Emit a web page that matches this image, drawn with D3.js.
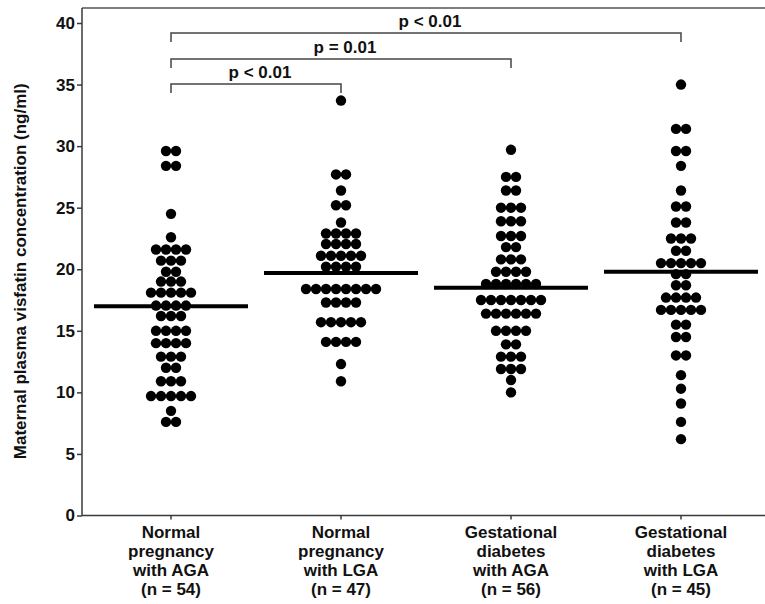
<!DOCTYPE html>
<html>
<head>
<meta charset="utf-8">
<script src="https://cdn.jsdelivr.net/npm/d3@7"></script>
<style>
  html, body { margin: 0; padding: 0; background: #fff; }
  svg { display: block; font-family: "Liberation Sans", Arial, Helvetica, sans-serif; font-weight: bold; }
</style>
</head>
<body>
<svg id="chart" width="765" height="604"></svg>
<script>
// ---- data ----
const categories = ["NP_AGA", "NP_LGA", "GDM_AGA", "GDM_LGA"];
const categoryLabels = [
  ["Normal", "pregnancy", "with AGA", "(n = 54)"],
  ["Normal", "pregnancy", "with LGA", "(n = 47)"],
  ["Gestational", "diabetes", "with AGA", "(n = 56)"],
  ["Gestational", "diabetes", "with LGA", "(n = 45)"]
];
const npAGA = [29.6,29.6, 28.4,28.4, 24.5, 22.6, 21.6,21.6,21.6,21.6, 20.7,20.7,20.7, 19.8,19.8,
  19.0,19.0,19.0, 18.1,18.1,18.1,18.1,18.1, 17.05,17.05,17.05,17.05, 16.2,16.2,16.2,
  15.0,15.0,15.0,15.0, 14.0,14.0,14.0,14.0, 12.9,12.9,12.9, 12.0,12.0, 10.9,10.9,10.9,
  9.7,9.7,9.7,9.7,9.7, 8.5, 7.6,7.6];
const npLGA = [33.7, 27.7,27.7, 26.4, 25.2,25.2, 23.8, 22.9,22.9,22.9,22.9, 22.05,22.05,22.05,22.05,
  21.1,21.1,21.1,21.1,21.1, 20.2,20.2,20.2,20.2, 18.4,18.4,18.4,18.4,18.4,18.4,18.4,18.4,
  17.3,17.3,17.3,17.3, 15.7,15.7,15.7,15.7,15.7, 14.1,14.1,14.1,14.1, 12.3, 10.9];
const gdmAGA = [29.7, 27.5,27.5, 26.4,26.4, 25.0,25.0,25.0, 23.9,23.9,23.9, 22.7,22.7,22.7, 21.8,21.8,
  20.8,20.8,20.8, 19.8,19.8,19.8,19.8, 18.8,18.8,18.8,18.8,18.8,18.8,
  17.5,17.5,17.5,17.5,17.5,17.5,17.5, 16.4,16.4,16.4,16.4,16.4,16.4, 15.0,15.0,15.0,15.0,
  13.9,13.9, 12.9,12.9,12.9, 11.9,11.9,11.9, 11.0, 10.0];
const gdmLGA = [35.0, 31.4,31.4, 29.6,29.6, 28.4, 26.4, 25.1,25.1, 23.8,23.8, 22.5,22.5,22.5, 21.5,21.5,
  20.5,20.5,20.5,20.5,20.5, 19.6,19.6, 18.7,18.7, 17.7,17.7,17.7,17.7, 16.7,16.7,16.7,16.7,16.7,
  15.5,15.5, 14.5,14.5, 13.0,13.0, 11.4, 10.3, 9.1, 7.6, 6.2];
const groupValues = [npAGA, npLGA, gdmAGA, gdmLGA];
const groupMeans = [17.0, 19.7, 18.5, 19.8];
const yTicks = [0, 5, 10, 15, 20, 25, 30, 35, 40];
const yTitle = "Maternal plasma visfatin concentration (ng/ml)";
const comparisons = [
  { from: 0, to: 3, label: "p < 0.01", level: 0 },
  { from: 0, to: 2, label: "p = 0.01", level: 1 },
  { from: 0, to: 1, label: "p < 0.01", level: 2 }
];

// ---- layout ----
const svg = d3.select("#chart");
const plotLeft = 82, plotRight = 765, plotTop = 8, plotBottom = 515.5;
const y = d3.scaleLinear().domain([0, 40]).range([plotBottom, 23]);
const x = d3.scaleBand().domain(categories).range([86, 766]);
const cx = c => x(c) + x.bandwidth() / 2;
const axisColor = "#3a3a3a";
const fontSize = 17;

// top border line
svg.append("line").attr("x1", plotLeft).attr("x2", plotRight).attr("y1", plotTop).attr("y2", plotTop)
  .attr("stroke", "#555").attr("stroke-width", 1.5);

// y axis
const yAxis = svg.append("g").attr("transform", `translate(${plotLeft},0)`)
  .call(d3.axisLeft(y).tickValues(yTicks).tickSize(5).tickPadding(2).tickSizeOuter(0));
yAxis.select(".domain").attr("stroke", axisColor).attr("stroke-width", 1.5)
  .attr("d", `M0,${plotTop}V${plotBottom}`);
yAxis.selectAll(".tick line").attr("stroke", axisColor).attr("stroke-width", 1.5);
yAxis.selectAll(".tick text").attr("font-size", fontSize).attr("font-weight", "bold")
  .attr("font-family", "Liberation Sans, Arial, sans-serif").attr("fill", "#111");

// x axis
const xAxis = svg.append("g").attr("transform", `translate(0,${plotBottom})`)
  .call(d3.axisBottom(x).tickSize(4).tickSizeOuter(0).tickFormat(""));
xAxis.select(".domain").attr("stroke", axisColor).attr("stroke-width", 1.5)
  .attr("d", `M${plotLeft},0H${plotRight}`);
xAxis.selectAll(".tick line").attr("stroke", axisColor).attr("stroke-width", 1.5);

// x labels
categories.forEach((c, i) => {
  const t = svg.append("text").attr("text-anchor", "middle")
    .attr("font-size", fontSize).attr("fill", "#111");
  categoryLabels[i].forEach((line, j) => {
    t.append("tspan").attr("x", cx(c)).attr("y", 538 + j * 19).text(line);
  });
});

// y title
svg.append("text").attr("transform", `translate(26,${(y(40) + y(0)) / 2 + 2}) rotate(-90)`)
  .attr("text-anchor", "middle").attr("font-size", 17).attr("fill", "#111").text(yTitle);

// mean lines then dots (beeswarm rows)
const dotR = 5.2, dotStep = 10;
categories.forEach((c, i) => {
  svg.append("line").attr("x1", cx(c) - 77).attr("x2", cx(c) + 77)
    .attr("y1", y(groupMeans[i])).attr("y2", y(groupMeans[i]))
    .attr("stroke", "#000").attr("stroke-width", 4);
});
categories.forEach((c, i) => {
  const rows = d3.rollups(groupValues[i], v => v.length, v => v);
  const pts = [];
  rows.forEach(([val, n]) => {
    for (let k = 0; k < n; k++) pts.push({ v: val, off: (k - (n - 1) / 2) * dotStep });
  });
  svg.append("g").selectAll("circle").data(pts).join("circle")
    .attr("cx", d => cx(c) + d.off).attr("cy", d => y(d.v)).attr("r", dotR).attr("fill", "#000");
});

// significance brackets
const bracketY = [33, 59, 84];
comparisons.forEach(cmp => {
  const x1 = cx(categories[cmp.from]), x2 = cx(categories[cmp.to]);
  const by = bracketY[cmp.level];
  svg.append("path").attr("d", `M${x1},${by + 9}V${by}H${x2}V${by + 9}`)
    .attr("fill", "none").attr("stroke", "#444").attr("stroke-width", 1.5);
  svg.append("text").attr("x", (x1 + x2) / 2 + 4).attr("y", by - 6)
    .attr("text-anchor", "middle").attr("font-size", fontSize).attr("fill", "#111").text(cmp.label);
});
</script>
</body>
</html>
